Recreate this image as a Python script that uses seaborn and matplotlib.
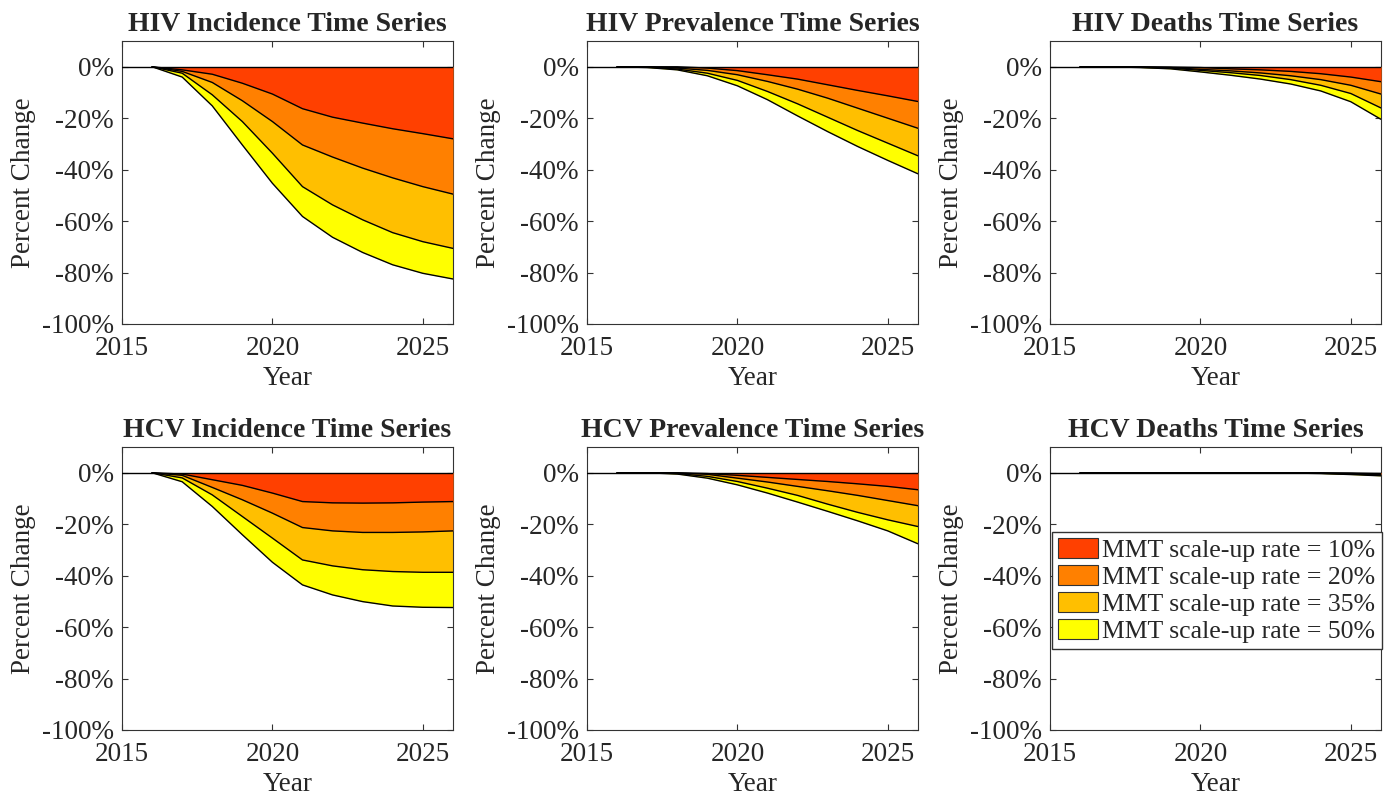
import numpy as np
import pandas as pd
import seaborn as sns
import matplotlib
matplotlib.use("Agg")
import matplotlib.pyplot as plt
from matplotlib.patches import Patch

# years simulated
years = [2016, 2017, 2018, 2019, 2020, 2021, 2022, 2023, 2024, 2025, 2026]

# scenario names and colours (autumn colormap, MATLAB style)
scenarios = ["MMT scale-up rate = 10%", "MMT scale-up rate = 20%",
             "MMT scale-up rate = 35%", "MMT scale-up rate = 50%"]
colors = ["#FF4000", "#FF8000", "#FFBF00", "#FFFF00"]

# percent change per scenario (10%, 20%, 35%, 50%)
hiv_incidence = [
    [0, -1.2, -2.9, -6.4, -10.6, -16.3, -19.6, -21.9, -24.1, -26.0, -28.0],
    [0, -1.8, -6.1, -13.2, -21.3, -30.4, -35.1, -39.4, -43.2, -46.6, -49.5],
    [0, -2.5, -10.9, -21.3, -33.6, -46.6, -53.7, -59.5, -64.5, -68.0, -70.6],
    [0, -4.0, -15.2, -30.4, -45.3, -58.2, -66.3, -72.2, -77.0, -80.3, -82.5],
]
hiv_prevalence = [
    [0, 0, 0, -0.5, -1.5, -3.1, -4.8, -7.0, -9.2, -11.3, -13.5],
    [0, 0, -0.5, -1.4, -3.1, -5.7, -8.7, -12.2, -16.1, -20.0, -23.9],
    [0, -0.1, -0.9, -2.5, -5.3, -9.6, -14.4, -19.6, -24.8, -29.7, -34.6],
    [0, -0.3, -1.2, -3.5, -7.4, -12.8, -19.1, -25.2, -31.0, -36.4, -41.6],
]
hiv_deaths = [
    [0, 0, 0, -0.1, -0.3, -0.8, -1.2, -1.8, -2.7, -4.0, -5.8],
    [0, 0, -0.1, -0.3, -1.0, -1.6, -2.4, -3.5, -5.0, -7.2, -10.6],
    [0, 0, -0.2, -0.5, -1.4, -2.3, -3.4, -5.0, -7.2, -10.4, -16.0],
    [0, 0, -0.3, -0.8, -2.0, -3.3, -4.8, -6.7, -9.4, -13.6, -20.4],
]
hcv_incidence = [
    [0, -0.5, -2.7, -4.9, -7.9, -11.2, -11.7, -11.8, -11.7, -11.4, -11.2],
    [0, -1.0, -5.7, -10.5, -15.7, -21.3, -22.6, -23.2, -23.2, -23.0, -22.6],
    [0, -2.0, -8.6, -17.0, -25.4, -33.9, -36.2, -37.7, -38.4, -38.7, -38.7],
    [0, -3.5, -13.1, -24.1, -34.8, -43.6, -47.5, -50.1, -51.8, -52.3, -52.4],
]
hcv_prevalence = [
    [0, 0, 0, -0.3, -1.0, -1.8, -2.6, -3.4, -4.3, -5.3, -6.6],
    [0, 0, -0.1, -0.6, -2.1, -3.6, -5.3, -7.0, -8.8, -10.8, -12.8],
    [0, 0, -0.3, -1.4, -3.4, -6.0, -8.8, -12.2, -15.4, -18.3, -20.9],
    [0, 0, -0.5, -2.1, -4.7, -7.9, -11.4, -15.0, -18.7, -22.6, -27.6],
]
hcv_deaths = [
    [0, 0, 0, 0, 0, 0, 0, 0, -0.05, -0.1, -0.3],
    [0, 0, 0, 0, 0, 0, 0, -0.05, -0.1, -0.3, -0.6],
    [0, 0, 0, 0, 0, 0, 0, -0.1, -0.2, -0.5, -0.9],
    [0, 0, 0, 0, 0, 0, 0, -0.1, -0.3, -0.7, -1.2],
]

titles = ["HIV Incidence Time Series", "HIV Prevalence Time Series", "HIV Deaths Time Series",
          "HCV Incidence Time Series", "HCV Prevalence Time Series", "HCV Deaths Time Series"]
panels = [hiv_incidence, hiv_prevalence, hiv_deaths,
          hcv_incidence, hcv_prevalence, hcv_deaths]

ytick_vals = [0, -20, -40, -60, -80, -100]
ytick_labels = ["0%", "-20%", "-40%", "-60%", "-80%", "-100%"]
xtick_vals = [2015, 2020, 2025]

sns.set_style("ticks")
plt.rcParams['font.family'] = ['Liberation Serif', 'DejaVu Serif']
plt.rcParams['axes.unicode_minus'] = False

fig = plt.figure(figsize=(13.93, 7.97), dpi=100)

lefts = [0.0876, 0.4214, 0.7538]
bottoms = [0.5935, 0.0841]
w, h = 0.2375, 0.355

spine_col = "#333333"
fs = 19.5

for i, (title, data) in enumerate(zip(titles, panels)):
    ax = fig.add_axes([lefts[i % 3], bottoms[i // 3], w, h])
    # draw biggest reduction first so smaller ones sit on top
    for k in range(3, -1, -1):
        ax.fill_between(years, 0, data[k], color=colors[k], linewidth=0, zorder=1 + (3 - k))
        df = pd.DataFrame({"year": years, "pct": data[k]})
        sns.lineplot(data=df, x="year", y="pct", ax=ax, color="black",
                     linewidth=1.0, zorder=6)
    ax.axhline(0, color="black", linewidth=1.0, zorder=7)

    ax.set_xlim(2015, 2026)
    ax.set_ylim(-100, 10)
    ax.set_xticks(xtick_vals)
    ax.set_xticklabels([str(t) for t in xtick_vals])
    ax.set_yticks(ytick_vals)
    ax.set_yticklabels(ytick_labels)
    ax.tick_params(direction="in", top=True, right=True, labelsize=fs,
                   length=4, width=0.8, color=spine_col)
    ax.tick_params(axis="x", pad=9)
    ax.tick_params(axis="y", pad=6)
    for s in ax.spines.values():
        s.set_visible(True)
        s.set_color(spine_col)
        s.set_linewidth(0.8)
    ax.set_xlabel("Year", fontsize=fs, labelpad=3)
    ax.set_ylabel("Percent Change", fontsize=fs, labelpad=4)
    ax.set_title(title, fontsize=20, fontweight="bold", pad=7)

    if i == 5:
        handles = [Patch(facecolor=c, edgecolor="#333333", linewidth=0.8) for c in colors]
        ax.legend(handles, scenarios, loc="upper right", bbox_to_anchor=(1.002, 0.70),
                  fontsize=18.5, frameon=True, fancybox=False, edgecolor="#333333",
                  framealpha=1, handlelength=1.55, handleheight=0.8,
                  handletextpad=0.15, labelspacing=0.12, borderpad=0.25,
                  borderaxespad=0.0)

fig.savefig("out.png", dpi=100)
